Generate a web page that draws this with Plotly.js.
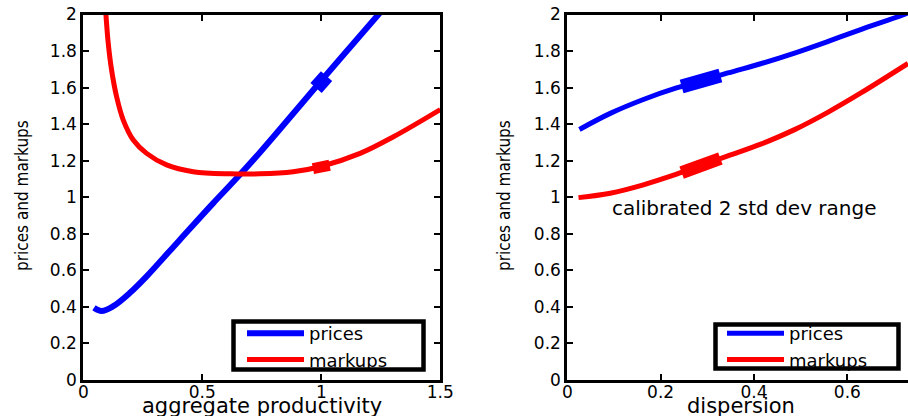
<!DOCTYPE html>
<html>
<head>
<meta charset="utf-8">
<script src="https://cdn.plot.ly/plotly-3.0.1.min.js"></script>
<style>html,body{margin:0;padding:0;background:#fff;}#chart{width:908px;height:416px;}</style>
</head>
<body>
<div id="chart"></div>
<script>
// Left panel: aggregate productivity
const prodPricesX = [0.045, 0.077, 0.126, 0.196, 0.266, 0.406, 0.546, 0.645, 0.742, 0.995, 1.24, 1.27];
const prodPricesY = [0.395, 0.377, 0.404, 0.477, 0.567, 0.768, 0.968, 1.105, 1.245, 1.631, 2.0, 2.045];
const prodMarkupsX = [0.095, 0.105, 0.119, 0.140, 0.168, 0.210, 0.266, 0.350, 0.462, 0.616, 0.742, 0.882, 0.995, 1.163, 1.303, 1.5];
const prodMarkupsY = [2.0, 1.84, 1.695, 1.55, 1.422, 1.313, 1.24, 1.177, 1.14, 1.128, 1.128, 1.14, 1.167, 1.24, 1.331, 1.48];
// calibrated 2 std dev range (left)
const prodRangePricesX = [0.978, 1.0, 1.022];
const prodRangePricesY = [1.598, 1.630, 1.663];
const prodRangeMarkupsX = [0.965, 1.0, 1.035];
const prodRangeMarkupsY = [1.157, 1.165, 1.175];

// Right panel: dispersion
const dispPricesX = [0.026, 0.092, 0.163, 0.234, 0.284, 0.344, 0.416, 0.487, 0.559, 0.630, 0.716, 0.74];
const dispPricesY = [1.371, 1.459, 1.535, 1.598, 1.634, 1.680, 1.732, 1.789, 1.853, 1.919, 1.995, 2.02];
const dispMarkupsX = [0.024, 0.092, 0.163, 0.234, 0.284, 0.344, 0.416, 0.487, 0.559, 0.630, 0.730];
const dispMarkupsY = [0.998, 1.022, 1.068, 1.126, 1.171, 1.226, 1.292, 1.370, 1.466, 1.572, 1.732];
// calibrated 2 std dev range (right)
const dispRangePricesX = [0.245, 0.285, 0.328];
const dispRangePricesY = [1.606, 1.635, 1.666];
const dispRangeMarkupsX = [0.245, 0.285, 0.328];
const dispRangeMarkupsY = [1.135, 1.172, 1.212];

const seriesNames = ['prices', 'markups'];
const xTitleLeft = 'aggregate productivity';
const xTitleRight = 'dispersion';
const yTitle = 'prices and markups';
const noteText = 'calibrated 2 std dev range';

const BLUE = '#0000ff', RED = '#ff0000';
const SANS = 'DejaVu Sans, Liberation Sans, Arial, sans-serif';
const tickFont = {family: SANS, size: 17, color: '#000'};
const titleFontX = {family: SANS, size: 21, color: '#000'};
const titleFontY = {family: 'Liberation Sans Narrow, DejaVu Sans Condensed, Liberation Sans, Arial, sans-serif', size: 17, color: '#000'};

const traces = [
  {x: prodPricesX, y: prodPricesY, xaxis: 'x', yaxis: 'y', mode: 'lines', name: seriesNames[0],
   line: {color: BLUE, width: 6, shape: 'spline'}, legend: 'legend'},
  {x: prodMarkupsX, y: prodMarkupsY, xaxis: 'x', yaxis: 'y', mode: 'lines', name: seriesNames[1],
   line: {color: RED, width: 5, shape: 'spline'}, legend: 'legend'},
  {x: prodRangePricesX, y: prodRangePricesY, xaxis: 'x', yaxis: 'y', mode: 'lines', showlegend: false,
   line: {color: BLUE, width: 15}, hoverinfo: 'skip'},
  {x: prodRangeMarkupsX, y: prodRangeMarkupsY, xaxis: 'x', yaxis: 'y', mode: 'lines', showlegend: false,
   line: {color: RED, width: 11}, hoverinfo: 'skip'},

  {x: dispPricesX, y: dispPricesY, xaxis: 'x2', yaxis: 'y2', mode: 'lines', name: seriesNames[0],
   line: {color: BLUE, width: 5, shape: 'spline'}, legend: 'legend2'},
  {x: dispMarkupsX, y: dispMarkupsY, xaxis: 'x2', yaxis: 'y2', mode: 'lines', name: seriesNames[1],
   line: {color: RED, width: 5, shape: 'spline'}, legend: 'legend2'},
  {x: dispRangePricesX, y: dispRangePricesY, xaxis: 'x2', yaxis: 'y2', mode: 'lines', showlegend: false,
   line: {color: BLUE, width: 14}, hoverinfo: 'skip'},
  {x: dispRangeMarkupsX, y: dispRangeMarkupsY, xaxis: 'x2', yaxis: 'y2', mode: 'lines', showlegend: false,
   line: {color: RED, width: 13}, hoverinfo: 'skip'}
];

const axisCommon = {
  showgrid: false, zeroline: false, showline: true, linecolor: '#000', linewidth: 3,
  ticks: 'inside', ticklen: 6, tickwidth: 2, tickcolor: '#000', tickfont: tickFont
};
const yDomain = [1 - 380/416, 1 - 14.5/416];

const legendCommon = {
  bgcolor: 'rgba(0,0,0,0)', borderwidth: 0,
  font: {family: SANS, size: 18, color: '#000'},
  xanchor: 'left', yanchor: 'top', itemwidth: 57, tracegroupgap: 0
};

const W = 908, H = 416;
function px(v) { return v / W; }
function py(v) { return 1 - v / H; }

const layout = {
  width: W, height: H,
  margin: {l: 0, r: 0, t: 0, b: 0},
  paper_bgcolor: '#fff', plot_bgcolor: '#fff',
  showlegend: true,
  xaxis: Object.assign({}, axisCommon, {domain: [px(83.3), px(440.3)], range: [0, 1.5],
    tickvals: [0, 0.5, 1, 1.5], mirror: 'ticks', anchor: 'y', ticklabelstandoff: -5}),
  yaxis: Object.assign({}, axisCommon, {domain: yDomain, range: [0, 2], dtick: 0.2, mirror: 'ticks', anchor: 'x'}),
  xaxis2: Object.assign({}, axisCommon, {domain: [px(567.3), 1], range: [0, 0.73],
    tickvals: [0, 0.2, 0.4, 0.6], mirror: 'ticks', anchor: 'y2', ticklabelstandoff: -5}),
  yaxis2: Object.assign({}, axisCommon, {domain: yDomain, range: [0, 2], dtick: 0.2, mirror: false, anchor: 'x2'}),
  legend: Object.assign({}, legendCommon, {x: px(242), y: py(315)}),
  legend2: Object.assign({}, legendCommon, {x: px(722), y: py(315)}),
  shapes: [
    {type: 'rect', xref: 'paper', yref: 'paper', x0: px(233.5), x1: px(423.5), y0: py(321.5), y1: py(369.5),
     line: {color: '#000', width: 4.5}, fillcolor: '#fff', layer: 'above'},
    {type: 'rect', xref: 'paper', yref: 'paper', x0: px(715.5), x1: px(898.5), y0: py(324.5), y1: py(368.5),
     line: {color: '#000', width: 4.5}, fillcolor: '#fff', layer: 'above'}
  ],
  annotations: [
    {text: noteText, xref: 'x2', yref: 'y2', x: 0.379, y: 0.942, showarrow: false,
     xanchor: 'center', yanchor: 'middle',
     font: {family: SANS, size: 20, color: '#000'}},
    // axis titles
    {text: xTitleLeft, xref: 'paper', yref: 'paper', x: px(262), y: py(392), showarrow: false,
     xanchor: 'center', yanchor: 'top', font: titleFontX},
    {text: xTitleRight, xref: 'paper', yref: 'paper', x: px(741), y: py(392), showarrow: false,
     xanchor: 'center', yanchor: 'top', font: titleFontX},
    {text: yTitle, xref: 'paper', yref: 'paper', x: px(22), y: py(196), showarrow: false, textangle: -90,
     xanchor: 'center', yanchor: 'middle', font: titleFontY},
    {text: yTitle, xref: 'paper', yref: 'paper', x: px(504), y: py(196), showarrow: false, textangle: -90,
     xanchor: 'center', yanchor: 'middle', font: titleFontY}
  ]
};

Plotly.newPlot('chart', traces, layout, {staticPlot: true, displayModeBar: false});
</script>
</body>
</html>
